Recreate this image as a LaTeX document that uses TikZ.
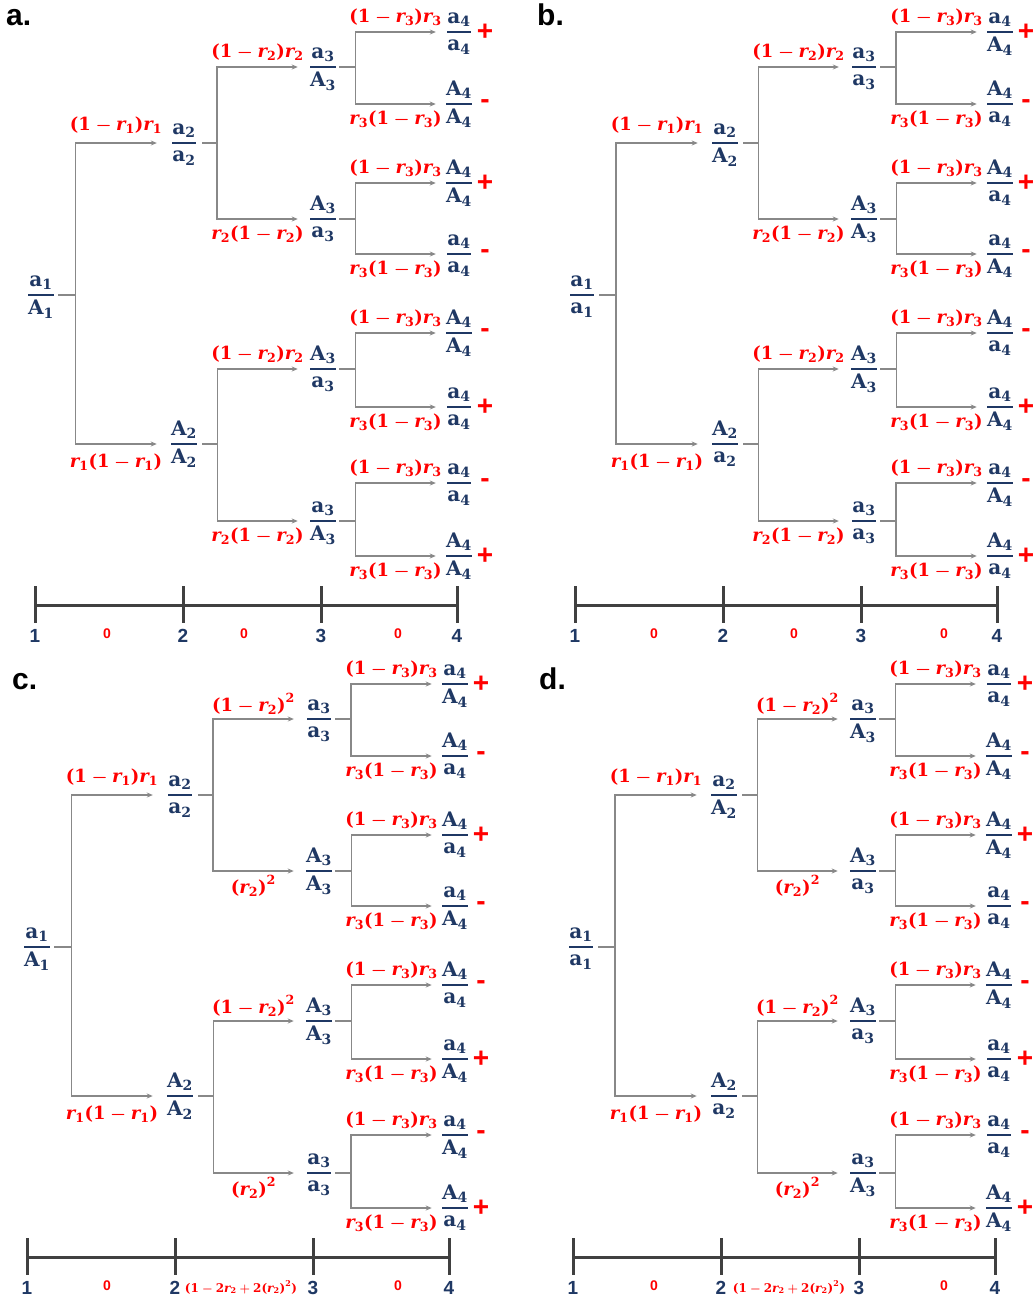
\RequirePackage{fix-cm}
\documentclass[tikz,border=0pt]{standalone}
\usepackage{amsmath}
\usepackage{fontspec}
\newfontfamily\lsans{Liberation Sans}
\newfontfamily\dvs{DejaVu Serif}
\usetikzlibrary{arrows.meta}
\definecolor{navy}{HTML}{1F3864}
\definecolor{lred}{HTML}{FF0000}
\definecolor{lgray}{HTML}{888888}
\definecolor{axc}{HTML}{404040}
\newcommand\fr[3]{\raisebox{-5pt}[0pt][0pt]{$\genfrac{}{}{1.5pt}{0}{\text{#1}_{\text{#3}}}{\text{#2}_{\text{#3}}}$}}
\newcommand\R[1]{\text{\itshape r}_{\text{#1}}}
\tikzset{
  frac/.style={text=navy, inner sep=0pt, minimum width=28pt, font=\dvs\bfseries\fontsize{20}{24}\selectfont},
  lab/.style={text=lred, inner sep=0pt, font=\dvs\bfseries\fontsize{18}{22}\selectfont\boldmath},
  ln/.style={draw=lgray, line width=1.5pt},
  arr/.style={ln, -{Stealth[length=6pt,width=5pt]}},
  sgn/.style={text=lred, inner sep=0pt, font=\lsans\bfseries\fontsize{28}{32}\selectfont},
  num/.style={text=navy, inner sep=0pt, font=\lsans\bfseries\fontsize{19}{22}\selectfont},
  zero/.style={text=lred, inner sep=0pt, font=\lsans\bfseries\fontsize{14}{16}\selectfont},
  axm/.style={text=lred, inner sep=0pt, font=\dvs\bfseries\fontsize{12}{14}\selectfont\boldmath},
  plab/.style={inner sep=0pt, anchor=base west, font=\lsans\bfseries\fontsize{30}{34}\selectfont},
  axis/.style={draw=axc, line width=3pt},
}
\newcommand\drawpanel[5]{%
\begin{scope}[shift={(#2,#3)}]
 \node[frac] (#1r) at (41,295) {\Root};
 \node[frac] (#1u) at (184,143) {\Lt};
 \node[frac] (#1d) at (184,444) {\Lb};
 \foreach \kk/\yy/\nm/\dn in \mids {\node[frac] (#1m\kk) at (323,\yy) {\fr{\nm}{\dn}{3}};}
 \foreach \kk/\yy/\nm/\dn/\sg in \leaves {\node[frac] (#1f\kk) at (459,\yy) {\fr{\nm}{\dn}{4}};
   \node[sgn] (#1s\kk) at (485,\yy) {\sg};}
 \draw[ln] ([xshift=3pt]#1r.east) -- ([xshift=20pt]#1r.east) coordinate (#1v);
 \draw[arr] (#1v) |- ([xshift=-13pt]#1u.west) node[lab,pos=.75,yshift=18pt] {\lA};
 \draw[arr] (#1v) |- ([xshift=-13pt]#1d.west) node[lab,pos=.75,yshift=-18pt] {\lB};
 \foreach \pp/\qa/\qb in {u/1/2, d/3/4} {
   \draw[ln] ([xshift=4pt]#1\pp.east) -- ([xshift=19pt]#1\pp.east) coordinate (#1w\pp);
   \draw[arr] (#1w\pp) |- ([xshift=-11pt]#1m\qa.west) node[lab,pos=.75,yshift=15pt] {\lC};
   \draw[arr] (#1w\pp) |- ([xshift=-11pt]#1m\qb.west) node[lab,pos=.75,yshift=-15pt] {\lD};
 }
 \foreach \kk/\qa/\qb in {1/1/2,2/3/4,3/5/6,4/7/8} {
   \draw[ln] ([xshift=2pt]#1m\kk.east) -- ([xshift=18pt]#1m\kk.east) coordinate (#1x\kk);
   \draw[arr] (#1x\kk) |- ([xshift=-9pt]#1f\qa.west) node[lab,pos=.75,yshift=15pt] {\lE};
   \draw[arr] (#1x\kk) |- ([xshift=-9pt]#1f\qb.west) node[lab,pos=.75,yshift=-15pt] {\lF};
 }
\end{scope}
\begin{scope}[shift={(#4,#3)}]
 \draw[axis] (35,605) -- (457,605);
 \foreach \xx in {35,183,321,457} \draw[axis] (\xx,586) -- (\xx,623);
 \foreach \xx/\lbl in {35/1,183/2,321/3,457/4} \node[num] (#1n\lbl) at (\xx,636) {\lbl};
 #5
\end{scope}
}
\def\lA{$\text{(1}-\R1\text{)}\R1$}
\def\lB{$\R1\text{(1}-\R1\text{)}$}
\def\lE{$\text{(1}-\R3\text{)}\R3$}
\def\lF{$\R3\text{(1}-\R3\text{)}$}
\def\axmid{$\text{(1}-\text{2}\R2+\text{2(}\R2\text{)}^{\text{2}}\text{)}$}
\begin{document}
\begin{tikzpicture}[x=1pt,y=-1pt]
\fill[white] (0,0) rectangle (1034,1302);
\useasboundingbox (0,0) rectangle (1034,1302);
\node[plab] (pa) at (6,25) {a.};
\node[plab] (pb) at (537,25) {b.};
\node[plab] (pc) at (12,689) {c.};
\node[plab] (pd) at (539,689) {d.};
% panel a
\def\Root{\fr aA1}\def\Lt{\fr aa2}\def\Lb{\fr AA2}
\def\lC{$\text{(1}-\R2\text{)}\R2$}\def\lD{$\R2\text{(1}-\R2\text{)}$}
\def\mids{1/67/a/A, 2/219/A/a, 3/369/A/a, 4/521/a/A}
\def\leaves{1/32/a/a/+, 2/104/A/A/-, 3/183/A/A/+, 4/254/a/a/-, 5/333/A/A/-, 6/407/a/a/+, 7/483/a/a/-, 8/556/A/A/+}
\drawpanel{a}{0}{0}{0}{\node[zero] (az1) at (107,634) {0}; \node[zero] (az2) at (244,634) {0}; \node[zero] (az3) at (398,634) {0};}
% panel b
\def\Root{\fr aa1}\def\Lt{\fr aA2}\def\Lb{\fr Aa2}
\def\mids{1/67/a/a, 2/219/A/A, 3/369/A/A, 4/521/a/a}
\def\leaves{1/32/a/A/+, 2/104/A/a/-, 3/183/A/a/+, 4/254/a/A/-, 5/333/A/a/-, 6/407/a/A/+, 7/483/a/A/-, 8/556/A/a/+}
\drawpanel{b}{541}{0}{540}{\node[zero] (bz1) at (114,634) {0}; \node[zero] (bz2) at (254,634) {0}; \node[zero] (bz3) at (404,634) {0};}
% panel c
\def\Root{\fr aA1}\def\Lt{\fr aa2}\def\Lb{\fr AA2}
\def\lC{$\text{(1}-\R2\text{)}^{\text{2}}$}\def\lD{$\text{(}\R2\text{)}^{\text{2}}$}
\def\mids{1/67/a/a, 2/219/A/A, 3/369/A/A, 4/521/a/a}
\def\leaves{1/32/a/A/+, 2/104/A/a/-, 3/183/A/a/+, 4/254/a/A/-, 5/333/A/a/-, 6/407/a/A/+, 7/483/a/A/-, 8/556/A/a/+}
\drawpanel{c}{-4}{652}{-8}{\node[zero] (cz1) at (115,634) {0}; \node[axm] (cz2) at (249,635) {\axmid}; \node[zero] (cz3) at (406,634) {0};}
% panel d
\def\Root{\fr aa1}\def\Lt{\fr aA2}\def\Lb{\fr Aa2}
\def\mids{1/67/a/A, 2/219/A/a, 3/369/A/a, 4/521/a/A}
\def\leaves{1/32/a/a/+, 2/104/A/A/-, 3/183/A/A/+, 4/254/a/a/-, 5/333/A/A/-, 6/407/a/a/+, 7/483/a/a/-, 8/556/A/A/+}
\drawpanel{d}{540}{652}{538}{\node[zero] (dz1) at (116,634) {0}; \node[axm] (dz2) at (251,635) {\axmid}; \node[zero] (dz3) at (406,634) {0};}
\end{tikzpicture}
\end{document}
